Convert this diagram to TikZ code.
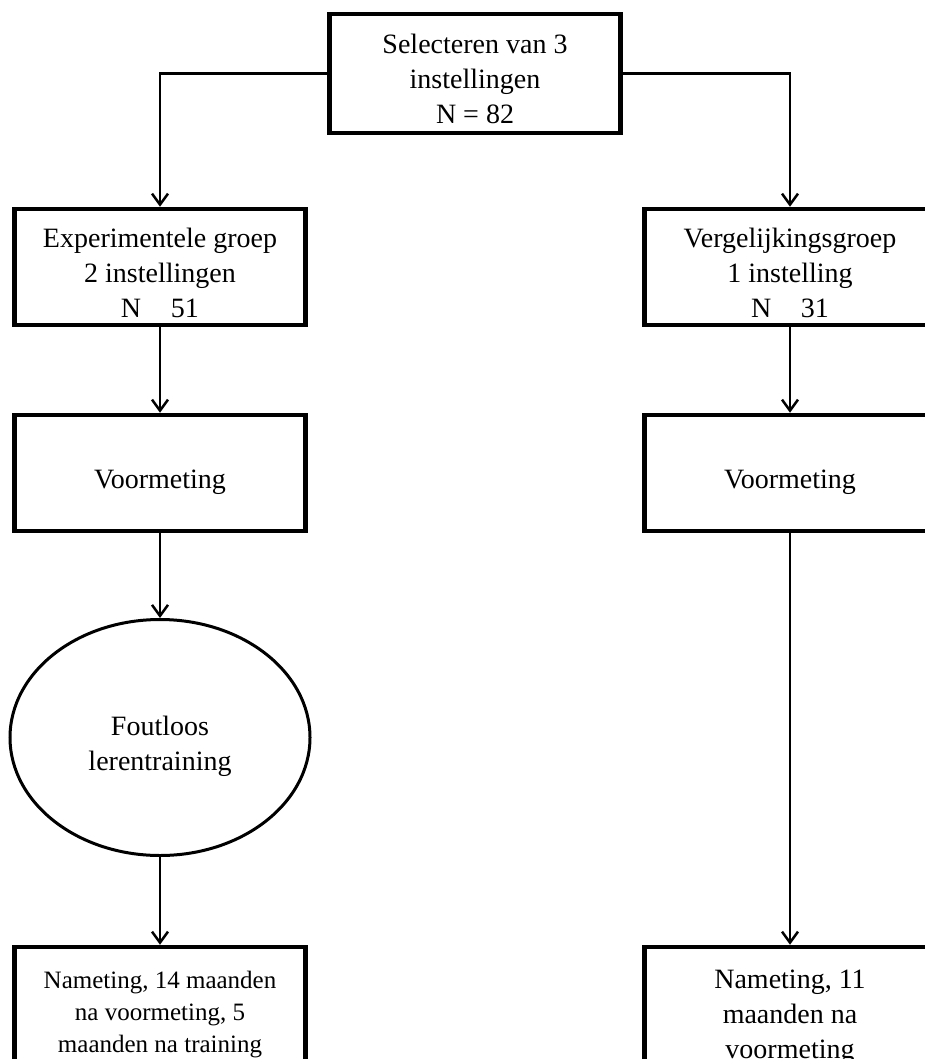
\documentclass[tikz,border=0pt]{standalone}
\usepackage{fontspec}
\setmainfont{Liberation Serif}
\usetikzlibrary{shapes,arrows.meta,positioning}

% text sits a little low in the boxes
\newcommand{\lowtext}[1]{\raisebox{-8pt}[\height][\depth]{\begin{tabular}{@{}c@{}}#1\end{tabular}}}

\begin{document}
\begin{tikzpicture}[
    x=1pt, y=-1pt,
    box/.style={draw, rectangle, line width=4.5pt, minimum width=291pt, minimum height=116pt, inner sep=0pt, font=\fontsize{28}{35}\selectfont},
    oval/.style={draw, ellipse, line width=3pt, minimum width=300pt, minimum height=236pt, inner sep=0pt, font=\fontsize{28}{35}\selectfont},
    arrow/.style={-{Straight Barb[length=11pt, width=16pt]}, line width=2.5pt}
]
\useasboundingbox (0,0) rectangle (925,1059);

% Selection of the settings
\node[box, minimum height=119pt] (select) at (475,73.5) {\lowtext{Selecteren van 3\\instellingen\\N = 82}};

% Experimental branch
\node[box] (exp) at (160,267) {\lowtext{Experimentele groep\\2 instellingen\\N~\phantom{=}~51}};
\node[box] (pre) at (160,473) {\lowtext{Voormeting}};
\node[oval] (train) at (160,737.5) {\lowtext{Foutloos\\lerentraining}};
\node[box, minimum height=118pt, font=\fontsize{25}{32}\selectfont] (post) at (160,1006) {\lowtext{Nameting, 14 maanden\\na voormeting, 5\\maanden na training}};

% Comparison branch
\node[box] (cmp) at (790,267) {\lowtext{Vergelijkingsgroep\\1 instelling\\N~\phantom{=}~31}};
\node[box] (cpre) at (790,473) {\lowtext{Voormeting}};
\node[box, minimum height=122pt] (cpost) at (790,1008) {\lowtext{Nameting, 11\\maanden na\\voormeting}};

% Connectors
\draw[arrow] (select.west) -| (exp.north);
\draw[arrow] (select.east) -| (cmp.north);
\draw[arrow] (exp) -- (pre);
\draw[arrow] (pre) -- (train);
\draw[arrow] (train) -- (post);
\draw[arrow] (cmp) -- (cpre);
\draw[arrow] (cpre) -- (cpost);

\end{tikzpicture}
\end{document}
